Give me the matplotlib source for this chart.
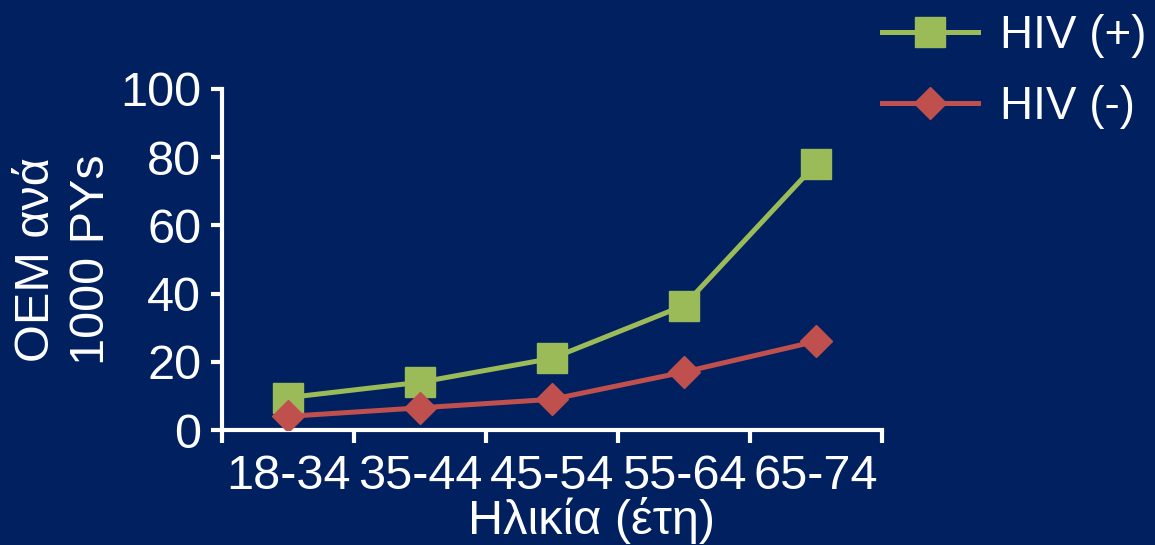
import matplotlib
matplotlib.use("Agg")
import matplotlib.pyplot as plt

# data
age_groups = ["18-34", "35-44", "45-54", "55-64", "65-74"]
hiv_pos = [9.5, 14, 21, 36.5, 78]
hiv_neg = [4, 6.5, 9, 17, 26]

bg = "#002060"
green = "#9BBB59"
red = "#C0504D"

plt.rcParams["font.family"] = ["Liberation Sans", "DejaVu Sans"]
fs = 35

fig = plt.figure(figsize=(11.55, 5.45), dpi=100, facecolor=bg)
ax = fig.add_axes([222/1155, 1-430/545, (882-222)/1155, (430-89)/545])
ax.set_facecolor(bg)

x = list(range(len(age_groups)))
ax.plot(x, hiv_pos, color=green, lw=3.6, marker="s", ms=21, label="HIV (+)", zorder=3)
ax.plot(x, hiv_neg, color=red, lw=3.6, marker="D", ms=16.5, label="HIV (-)", zorder=4)

ax.set_xlim(-0.5, len(age_groups) - 0.5)
ax.set_ylim(0, 100)
ax.set_yticks(range(0, 101, 20))
ax.set_xticks([i - 0.5 for i in range(len(age_groups) + 1)])
ax.set_xticklabels([])
ax.set_xticks(x, minor=True)
ax.set_xticklabels(age_groups, minor=True)

for s in ["top", "right"]:
    ax.spines[s].set_visible(False)
for s in ["left", "bottom"]:
    ax.spines[s].set_color("white")
    ax.spines[s].set_linewidth(3)

ax.tick_params(axis="y", which="major", direction="out", length=8, width=3,
               color="white", labelcolor="white", labelsize=fs, pad=7)
ax.tick_params(axis="x", which="major", direction="out", length=9, width=3,
               color="white")
ax.tick_params(axis="x", which="minor", length=0, labelcolor="white",
               labelsize=fs, pad=17)

ax.set_xlabel("Ηλικία (έτη)", color="white", fontsize=fs, labelpad=-1)
ax.xaxis.label.set_x((591 - 222) / 660)
ax.set_ylabel("OEM ανά\n1000 PYs", color="white", fontsize=fs, labelpad=4,
              linespacing=1.3)

leg = fig.legend(loc="upper left", bbox_to_anchor=(882/1155, 1-14/545),
                 bbox_transform=fig.transFigure, frameon=False, fontsize=33,
                 handlelength=2.1, handletextpad=0.48, labelspacing=0.59,
                 borderpad=0, borderaxespad=0)
for t in leg.get_texts():
    t.set_color("white")

fig.savefig("out.png", dpi=100, facecolor=bg)
